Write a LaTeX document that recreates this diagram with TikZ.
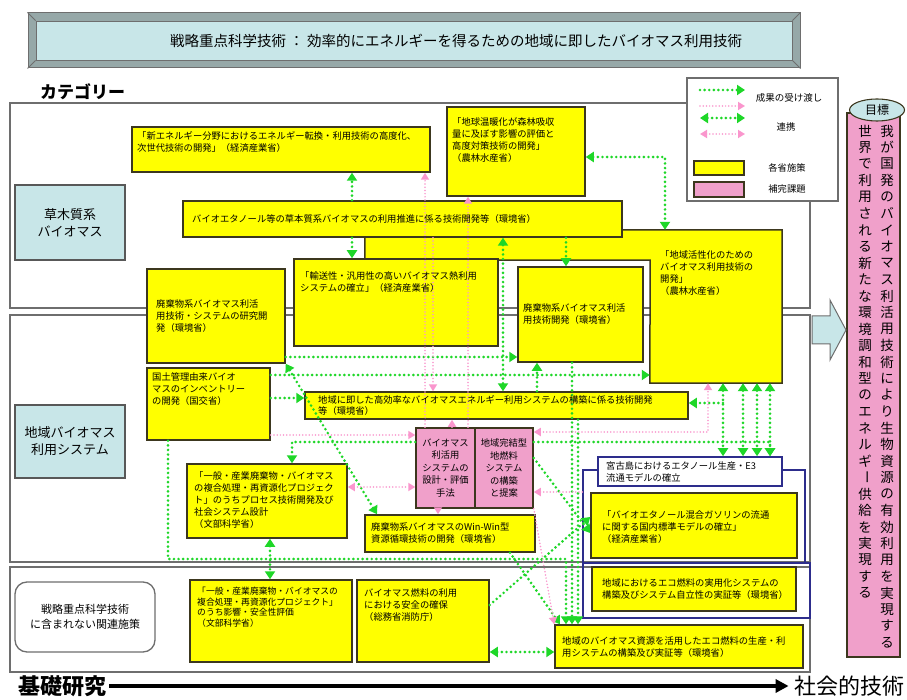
\documentclass[tikz,border=0pt]{standalone}
\usepackage{fontspec}
\setmainfont{Noto Sans CJK JP}
\usetikzlibrary{arrows.meta,fit,shapes.geometric}
\definecolor{gcol}{RGB}{30,215,40}
\definecolor{pcol}{RGB}{250,150,205}
\definecolor{ycol}{RGB}{255,255,0}
\definecolor{pkfill}{RGB}{240,160,202}
\definecolor{lb}{RGB}{200,230,232}
\definecolor{navy}{RGB}{45,45,140}
\definecolor{frame}{RGB}{110,110,110}
\definecolor{edge}{RGB}{60,55,30}
\definecolor{bancol}{RGB}{150,168,168}
\begin{document}
\begin{tikzpicture}[x=1pt,y=-1pt,
  rowbox/.style={draw=frame,line width=1.4pt,fill=white,inner sep=0pt},
  ybox/.style={draw=edge,line width=1.5pt,fill=ycol,inner sep=0pt},
  pbox/.style={draw=edge,line width=1.5pt,fill=pkfill,inner sep=0pt},
  lbl/.style={draw=frame!80!black,line width=1.2pt,fill=lb,inner sep=0pt},
  nbox/.style={draw=navy,line width=1.6pt,inner sep=0pt},
  bt/.style={inner sep=0pt,align=left,font=\fontsize{9.3}{12}\selectfont},
  ct/.style={inner sep=0pt,align=center,font=\fontsize{9.3}{12.5}\selectfont},
  vch/.style={inner sep=0pt,font=\fontsize{13.5}{14}\selectfont},
  gdot/.style={draw=gcol,line width=2.9pt,dash pattern=on 0pt off 4.6pt,line cap=round},
  pdot/.style={draw=pcol,line width=1.7pt,dash pattern=on 0pt off 3.2pt,line cap=round},
  gone/.style={-{Triangle[length=8pt,width=10pt]}},
  gtwo/.style={{Triangle[length=8pt,width=10pt]}-{Triangle[length=8pt,width=10pt]}},
  pone/.style={-{Triangle[length=7pt,width=8pt]}},
  ptwo/.style={{Triangle[length=7pt,width=8pt]}-{Triangle[length=7pt,width=8pt]}}]
\useasboundingbox (0,0) rectangle (907,700);
\fill[white] (0,0) rectangle (907,700);

% helper coordinates
\foreach \v in {168,270,292,352,377,425,433,438,452,468,503,510,537,560,566,572,578,665,708,723,743,757,770}
  \coordinate (v\v) at (\v,0);
\foreach \h in {157,357,375,398,403,432,435,442,458,487,492,517,533,559,605,652}
  \coordinate (h\h) at (0,\h);

% rows
\node[rowbox,fit={(10,103)(810,308)}] (R1) {};
\node[rowbox,fit={(10,315)(810,562)}] (R2) {};
\node[rowbox,fit={(10,567)(810,672)}] (R3) {};

% banner
\node[draw=frame,line width=1pt,fill=bancol,inner sep=0pt,fit={(28,13)(800,68)}] (Ban) {};
\node[draw=frame,line width=0.8pt,fill=lb,inner sep=0pt,fit={(36,21)(792,60)}] (BanIn) {};
\draw[frame,line width=0.8pt] (Ban.north west) -- (BanIn.north west);
\draw[frame,line width=0.8pt] (Ban.south west) -- (BanIn.south west);
\draw[frame,line width=0.8pt] (Ban.north east) -- (BanIn.north east);
\draw[frame,line width=0.8pt] (Ban.south east) -- (BanIn.south east);
\node[inner sep=0pt,font=\fontsize{14.5}{16}\selectfont] (title) at (456,41)
  {戦略重点科学技術 ： 効率的にエネルギーを得るための地域に即したバイオマス利用技術};
\node[inner sep=0pt,anchor=west,font=\fontsize{17}{20}\selectfont\bfseries] (cat) at (40,92) {カテゴリー};

% legend
\node[draw=frame,line width=1.2pt,fill=white,inner sep=0pt,fit={(687,78)(838,201)}] (Leg) {};
\coordinate (lga1) at (700,90);  \coordinate (lgb1) at (745,90);
\coordinate (lga2) at (700,106); \coordinate (lgb2) at (745,106);
\coordinate (lga3) at (700,118); \coordinate (lgb3) at (745,118);
\coordinate (lga4) at (700,134); \coordinate (lgb4) at (745,134);
\draw[gdot,gone] (lga1) -- (lgb1);
\draw[pdot,pone] (lga2) -- (lgb2);
\draw[gdot,gtwo] (lga3) -- (lgb3);
\draw[pdot,ptwo] (lga4) -- (lgb4);
\node[bt,font=\fontsize{9.5}{11}\selectfont] (lgt1) at (789,98) {成果の受け渡し};
\node[bt] (lgt2) at (786,127) {連携};
\node[draw=edge,line width=1.2pt,fill=ycol,inner sep=0pt,fit={(694,161)(744,175)}] (lgy) {};
\node[draw=edge,line width=1.2pt,fill=pkfill,inner sep=0pt,fit={(694,182)(744,197)}] (lgp) {};
\node[bt] (lgt3) at (787,168) {各省施策};
\node[bt] (lgt4) at (787,189) {補完課題};

% goal
\node[draw=edge,line width=1.2pt,fill=pkfill,inner sep=0pt,fit={(847,113)(900,657)}] (Goal) {};
\node[ellipse,draw=edge,line width=1.1pt,fill=lb,minimum width=55pt,minimum height=22pt,inner sep=0pt,
  font=\fontsize{12}{14}\selectfont] (Mok) at (877,110) {目標};
\foreach \vg [count=\i from 0] in {我,が,国,発,の,バ,イ,オ,マ,ス,利,活,用,技,術,に,よ,り,生,物,資,源,の,有,効,利,用,を,実,現,す,る}
  \node[vch] (gR\i) at (887,{131+\i*16.5}) {\vg};
\foreach \vg [count=\i from 0] in {世,界,で,利,用,さ,れ,る,新,た,な,環,境,調,和,型,の,エ,ネ,ル,ギ,{\rotatebox{-90}{ー}},供,給,を,実,現,す,る}
  \node[vch] (gL\i) at (865,{131+\i*16.5}) {\vg};

% big block arrow
\draw[draw=frame,fill=lb,line width=1pt] (812,316) -- (830,316) -- (830,300) -- (846,330) -- (830,360) -- (830,344) -- (812,344) -- cycle;

% category labels
\node[lbl,fit={(15,185)(125,260)}] (L1) {};
\node[ct,font=\fontsize{13}{17}\selectfont] (L1t) at (L1.center) {草木質系\\バイオマス};
\node[lbl,fit={(15,405)(125,478)}] (L2) {};
\node[ct,font=\fontsize{13}{17}\selectfont] (L2t) at (L2.center) {地域バイオマス\\利用システム};
\node[draw=frame,line width=1.3pt,rounded corners=12pt,fill=white,inner sep=0pt,fit={(15,582)(155,652)}] (Rel) {};
\node[ct,font=\fontsize{11}{15}\selectfont] (Relt) at (Rel.center) {戦略重点科学技術\\に含まれない関連施策};

% big L-shaped yellow box
\node[inner sep=0pt,fit={(365,230)(650,260)}] (Qs) {};
\node[inner sep=0pt,fit={(650,230)(782,383)}] (Qr) {};
\draw[draw=edge,line width=1.5pt,fill=ycol] (Qs.north west) -- (Qr.north east) -- (Qr.south east) -- (Qr.south west) -- (Qs.south east) -- (Qs.south west) -- cycle;

% yellow boxes
\node[ybox,fit={(132,127)(430,172)}] (A) {};
\node[ybox,fit={(447,107)(585,196)}] (B) {};
\node[ybox,fit={(183,201)(622,237)}] (C) {};
\node[ybox,fit={(294,259)(498,346)}] (D) {};
\node[ybox,fit={(518,267)(643,362)}] (E) {};
\node[ybox,fit={(147,269)(285,363)}] (F) {};
\node[ybox,fit={(147,368)(270,440)}] (G) {};
\node[ybox,fit={(305,392)(688,419)}] (H) {};
\node[ybox,fit={(187,464)(347,538)}] (I) {};
\node[ybox,fit={(365,515)(535,552)}] (J) {};
\node[pbox,fit={(416,428)(475,508)}] (P1) {};
\node[pbox,fit={(475,428)(533,508)}] (P2) {};
\node[nbox,fit={(583,470)(805,563)}] (Nv1) {};
\node[nbox,fit={(583,563)(810,618)}] (Nv2) {};
\node[nbox,fill=white,fit={(598,457)(782,486)}] (K) {};
\node[ybox,fit={(591,493)(797,558)}] (L) {};
\node[ybox,fit={(592,567)(796,611)}] (M) {};
\node[ybox,fit={(555,625)(803,668)}] (N) {};
\node[ybox,fit={(190,580)(352,662)}] (O) {};
\node[ybox,fit={(357,580)(489,662)}] (P) {};

% green connectors
\draw[gdot,gone] (C.north -| v352) -- (A.south -| v352);
\draw[gdot,gone] (C.south -| v352) -- (D.north -| v352);
\draw[gdot,gtwo] (B.east |- h157) -| (Qr.north -| v665);
\draw[gdot,gone] (C.south -| v566) -- (E.north -| v566);
\draw[gdot,gtwo] (C.south -| v503) -- (H.north -| v503);
\draw[gdot,gone] (F.east |- h357) -- (E.west |- h357);
\draw[gdot,gone] (G.east |- h375) -- (Qr.west |- h375);
\draw[gdot,gtwo] (F.south east) -- (J.north -| v377);
\draw[gdot,gone] (G.east |- h398) -- (H.west |- h398);
\draw[gdot,gone] (P1.west |- h442) -| (I.north -| v292);
\draw[gdot,gone] (P2.east |- h442) -| (K.north -| v770);
\draw[gdot,gtwo] (Qr.south -| v723) -- (K.north -| v723);
\draw[gdot,gtwo] (Qr.south -| v743) -- (K.north -| v743);
\draw[gdot,gtwo] (Qr.south -| v757) -- (K.north -| v757);
\draw[gdot,gtwo] (Qr.south -| v770) -- (K.north -| v770);
\coordinate (j1) at (723,403);
\draw[gdot,gone] (j1) -- (H.east |- h403);
\draw[gdot,gone] (H.north -| v537) -- (E.south -| v537);
\draw[gdot,gone] (E.south -| v572) -- (N.north -| v572);
\draw[gdot,gone] (H.south -| v578) -- (N.north -| v578);
\draw[gdot,gone] (G.south -| v168) |- (h559 -| v566) -- (N.north -| v566);
\draw[gdot,gtwo] (I.south -| v270) -- (O.north -| v270);
\draw[gdot,gtwo] (P.east |- h652) -- (N.west |- h652);
\draw[gdot,gone] (P.east |- h605) -- (L.west |- h517);
\draw[gdot,gone] (P2.east |- h458) -- (L.west |- h533);
\draw[gdot,gone] (J.south -| v510) -- (N.north -| v560);

% pink connectors
\draw[pdot,pone] (P1.north -| v425) -- (A.south -| v425);
\draw[pdot,pone] (P1.north -| v468) -- (B.south -| v468);
\draw[pdot,pone] (P1.north -| v452) -- (H.south -| v452);
\draw[pdot,pone] (C.south -| v433) -- (H.north -| v433);
\draw[pdot,pone] (G.east |- h435) -- (P1.west |- h435);
\draw[pdot,ptwo] (I.east |- h487) -- (P1.west |- h487);
\draw[pdot,pone] (P1.south -| v438) -- (J.north -| v438);
\draw[pdot,ptwo] (P2.east |- h432) -| (Qr.south -| v708);
\draw[pdot,pone] (P2.south east) -- (N.north west);
\draw[pdot,pone] (Nv1.west |- h492) -- (P2.east |- h492);

% texts
\node[bt,anchor=north west] (At) at (137,131) {「新エネルギー分野におけるエネルギー転換・利用技術の高度化、\\次世代技術の開発」（経済産業省）};
\node[bt,anchor=north west] (Bt) at (452,117) {「地球温暖化が森林吸収\\量に及ぼす影響の評価と\\高度対策技術の開発」\\（農林水産省）};
\node[bt,anchor=west] (Ct) at (192,219) {バイオエタノール等の草本質系バイオマスの利用推進に係る技術開発等（環境省）};
\node[bt,anchor=north west] (Qt) at (660,250) {「地域活性化のための\\バイオマス利用技術の\\開発」\\（農林水産省）};
\node[bt,anchor=north west] (Dt) at (300,271) {「輸送性・汎用性の高いバイオマス熱利用\\システムの確立」（経済産業省）};
\node[bt,anchor=west] (Et) at (523,314) {廃棄物系バイオマス利活\\用技術開発（環境省）};
\node[bt,anchor=west] (Ft) at (156,316) {廃棄物系バイオマス利活\\用技術・システムの研究開\\発（環境省）};
\node[bt,anchor=north west] (Gt) at (152,372) {国土管理由来バイオ\\マスのインベントリー\\の開発（国交省）};
\node[bt,anchor=north west,font=\fontsize{9.3}{11.5}\selectfont] (Ht) at (318,395) {地域に即した高効率なバイオマスエネルギー利用システムの構築に係る技術開発\\等（環境省）};
\node[ct] (P1t) at (P1.center) {バイオマス\\利活用\\システムの\\設計・評価\\手法};
\node[ct] (P2t) at (P2.center) {地域完結型\\地燃料\\システム\\の構築\\と提案};
\node[bt,anchor=north west] (It) at (194,471) {「一般・産業廃棄物・バイオマス\\の複合処理・再資源化プロジェク\\ト」のうちプロセス技術開発及び\\社会システム設計\\（文部科学省）};
\node[bt,anchor=west] (Jt) at (371,533) {廃棄物系バイオマスのWin-Win型\\資源循環技術の開発（環境省）};
\node[bt,anchor=north west] (Kt) at (606,461) {宮古島におけるエタノール生産・E3\\流通モデルの確立};
\node[bt,anchor=north west] (Lt) at (602,510) {「バイオエタノール混合ガソリンの流通\\に関する国内標準モデルの確立」\\（経済産業省）};
\node[bt,anchor=west] (Mt) at (602,589) {地域におけるエコ燃料の実用化システムの\\構築及びシステム自立性の実証等（環境省）};
\node[bt,anchor=west] (Nt) at (562,647) {地域のバイオマス資源を活用したエコ燃料の生産・利\\用システムの構築及び実証等（環境省）};
\node[bt,anchor=north west,font=\fontsize{8.8}{10.5}\selectfont] (Ot) at (197,587) {「一般・産業廃棄物・バイオマスの\\複合処理・再資源化プロジェクト」\\のうち影響・安全性評価\\（文部科学省）};
\node[bt,anchor=north west] (Pt) at (364,588) {バイオマス燃料の利用\\における安全の確保\\（総務省消防庁）};

% bottom axis
\node[inner sep=0pt,anchor=west,font=\fontsize{22}{24}\selectfont\bfseries] (kiso) at (18,686) {基礎研究};
\node[inner sep=0pt,anchor=east,font=\fontsize{22}{24}\selectfont] (shakai) at (905,686) {社会的技術};
\draw[line width=3.5pt,-{Triangle[length=13pt,width=13pt]},shorten <=3pt,shorten >=6pt] (kiso.east) -- (shakai.west);
\end{tikzpicture}
\end{document}
